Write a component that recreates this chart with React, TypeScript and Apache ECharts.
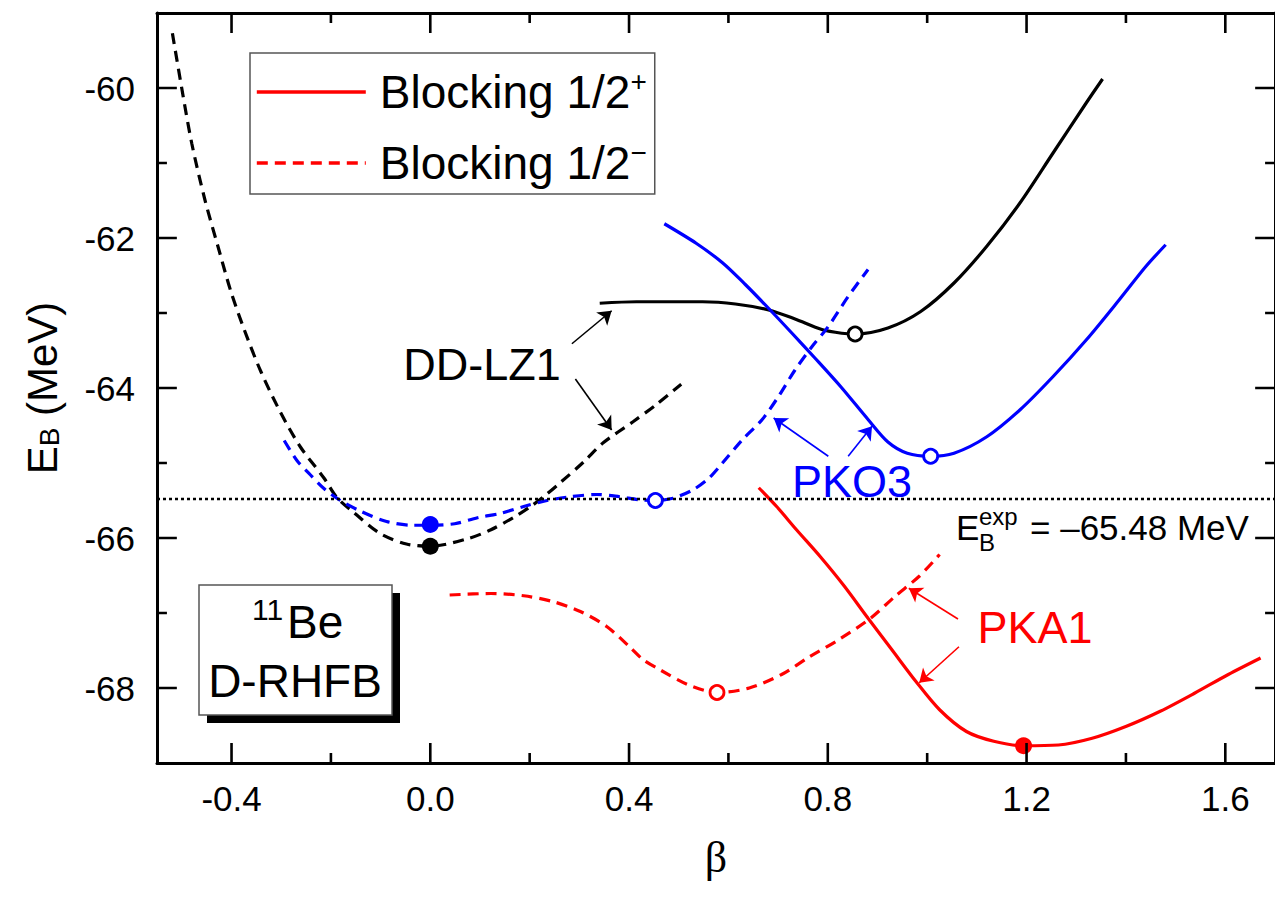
import React, { useEffect, useRef } from "react";
import * as echarts from "echarts";

const FONT = '"Liberation Sans", Arial, Helvetica, sans-serif';
const SERIF = '"Liberation Serif", "DejaVu Serif", serif';
const BLACK = "#000000";
const BLUE = "#0000ff";
const RED = "#ff0000";

// Axis ranges and ticks
const xMin = -0.55;
const xMax = 1.7;
const yMin = -69;
const yMax = -59;
const xMajorTicks = [-0.4, 0.0, 0.4, 0.8, 1.2, 1.6];
const xMinorTicks = [-0.2, 0.2, 0.6, 1.0, 1.4];
const yMajorTicks = [-68, -66, -64, -62, -60];
const yMinorTicks = [-67, -65, -63, -61];

// Experimental binding energy
const expEnergy = -65.48;

// DD-LZ1
const ddlz1Minus = [
  [-0.519, -59.27], [-0.5, -60.01], [-0.48, -60.74], [-0.454, -61.48], [-0.427, -62.12],
  [-0.401, -62.72], [-0.374, -63.23], [-0.341, -63.78], [-0.301, -64.33], [-0.261, -64.79],
  [-0.214, -65.2], [-0.188, -65.46], [-0.154, -65.66], [-0.101, -65.94], [-0.048, -66.08],
  [0.0, -66.11], [0.075, -66.01], [0.122, -65.89], [0.169, -65.72], [0.202, -65.58],
  [0.228, -65.45], [0.262, -65.26], [0.308, -64.99], [0.348, -64.73], [0.408, -64.45],
  [0.455, -64.22], [0.505, -63.95],
];
const ddlz1Plus = [
  [0.341, -62.87], [0.415, -62.85], [0.48, -62.85], [0.548, -62.85], [0.614, -62.88],
  [0.681, -62.96], [0.734, -63.08], [0.788, -63.22], [0.828, -63.27], [0.855, -63.28],
  [0.921, -63.2], [0.987, -62.98], [1.054, -62.6], [1.12, -62.11], [1.187, -61.53],
  [1.253, -60.87], [1.32, -60.2], [1.353, -59.88],
];

// PKO3
const pko3Minus = [
  [-0.294, -64.7], [-0.268, -64.97], [-0.241, -65.16], [-0.214, -65.34], [-0.181, -65.5],
  [-0.141, -65.64], [-0.088, -65.78], [-0.035, -65.83], [0.0, -65.83], [0.049, -65.81],
  [0.095, -65.73], [0.142, -65.67], [0.188, -65.58], [0.235, -65.5], [0.282, -65.45],
  [0.335, -65.42], [0.381, -65.45], [0.421, -65.49], [0.453, -65.5], [0.488, -65.47],
  [0.528, -65.36], [0.561, -65.2], [0.588, -65.0], [0.628, -64.69], [0.668, -64.42],
  [0.701, -64.11], [0.734, -63.76], [0.768, -63.45], [0.801, -63.18], [0.841, -62.78],
  [0.881, -62.42],
];
const pko3Plus = [
  [0.471, -61.81], [0.535, -62.07], [0.588, -62.33], [0.634, -62.62], [0.684, -62.96],
  [0.728, -63.27], [0.774, -63.6], [0.827, -63.99], [0.881, -64.42], [0.921, -64.72],
  [0.96, -64.87], [1.007, -64.91], [1.054, -64.87], [1.12, -64.65], [1.187, -64.29],
  [1.253, -63.85], [1.32, -63.36], [1.387, -62.82], [1.44, -62.38], [1.48, -62.09],
];

// PKA1
const pka1Minus = [
  [0.039, -66.76], [0.122, -66.74], [0.188, -66.77], [0.248, -66.85], [0.302, -66.98],
  [0.355, -67.18], [0.401, -67.45], [0.428, -67.62], [0.463, -67.76], [0.52, -67.96],
  [0.577, -68.06], [0.642, -68.0], [0.707, -67.82], [0.764, -67.58], [0.821, -67.36],
  [0.886, -67.07], [0.935, -66.78], [0.984, -66.51], [1.025, -66.22],
];
const pka1Plus = [
  [0.661, -65.33], [0.697, -65.58], [0.737, -65.89], [0.785, -66.25], [0.833, -66.64],
  [0.881, -67.07], [0.929, -67.49], [0.977, -67.91], [1.025, -68.29], [1.079, -68.58],
  [1.134, -68.71], [1.194, -68.77], [1.264, -68.76], [1.332, -68.67], [1.401, -68.51],
  [1.469, -68.31], [1.538, -68.07], [1.606, -67.82], [1.671, -67.6],
];

// Minima markers (filled = lowest state, open = other minima)
const filledMinima = [
  { model: "DD-LZ1", point: [0.0, -66.11] },
  { model: "PKO3", point: [0.0, -65.82] },
  { model: "PKA1", point: [1.194, -68.77] },
];
const openMinima = [
  { model: "DD-LZ1", point: [0.855, -63.28] },
  { model: "PKO3", point: [0.453, -65.5] },
  { model: "PKO3", point: [1.007, -64.91] },
  { model: "PKA1", point: [0.577, -68.06] },
];
const modelColor: Record<string, string> = { "DD-LZ1": BLACK, PKO3: BLUE, PKA1: RED };

// Label arrows: [from, to] in data coordinates
const ddlz1Arrows = [
  [[0.285, -63.41], [0.365, -62.97]],
  [[0.292, -63.88], [0.365, -64.56]],
];
const pko3Arrows = [
  [[0.801, -64.91], [0.691, -64.4]],
  [[0.841, -64.91], [0.889, -64.51]],
];
const pka1Arrows = [
  [[1.062, -67.08], [0.963, -66.67]],
  [[1.064, -67.45], [0.984, -67.93]],
];

const legendNames = ["Blocking 1/2+", "Blocking 1/2-"];

// Plot area (pixels)
const GRID = { left: 157, top: 13, width: 1127, height: 750 };
const MAJOR_LEN = 20;
const MINOR_LEN = 10;

// Tick marks on all four frame sides as broken polyline data (data coordinates)
function frameTickData() {
  const dx = (xMax - xMin) / GRID.width;
  const dy = (yMax - yMin) / GRID.height;
  const pts: any[] = [];
  const gap = ["-", "-"];
  const seg = (a: number[], b: number[]) => {
    pts.push(a, b, gap);
  };
  const xt = (v: number, len: number) => {
    seg([v, yMin], [v, yMin + len * dy]);
    seg([v, yMax], [v, yMax - len * dy]);
  };
  const yt = (v: number, len: number) => {
    seg([xMin, v], [xMin + len * dx, v]);
    seg([xMax, v], [xMax - len * dx, v]);
  };
  xMajorTicks.forEach((v) => xt(v, MAJOR_LEN));
  xMinorTicks.forEach((v) => xt(v, MINOR_LEN));
  yMajorTicks.forEach((v) => yt(v, MAJOR_LEN));
  yMinorTicks.forEach((v) => yt(v, MINOR_LEN));
  return pts;
}

function arrowMarkLine(arrows: number[][][], color: string) {
  return {
    silent: true,
    symbol: ["none", "arrow"],
    symbolSize: 13,
    label: { show: false },
    emphasis: { disabled: true },
    lineStyle: { type: "solid", width: 1.6, color },
    data: arrows.map(([a, b]) => [{ coord: a }, { coord: b }]),
  };
}

function curve(name: string, data: number[][], color: string, dashed: boolean, extra: any = {}) {
  return {
    name,
    type: "line",
    data,
    smooth: 0.3,
    symbol: "none",
    color,
    lineStyle: { color, width: 3.2, type: dashed ? [11, 7] : "solid" },
    z: 3,
    ...extra,
  };
}

function txt(text: string, x: number, y: number, size: number, color: string, align = "left") {
  return {
    type: "text", x, y, z: 10, silent: true,
    style: { text, fill: color, fontSize: size, fontFamily: FONT, align, verticalAlign: "middle" },
  };
}

export default function App() {
  const ref = useRef<HTMLDivElement>(null);

  useEffect(() => {
    if (!ref.current) return;
    const chart = echarts.init(ref.current, null, { renderer: "svg" });

    const axisLine = { show: true, onZero: false, lineStyle: { color: BLACK, width: 3 } };

    const option: any = {
      animation: false,
      backgroundColor: "#ffffff",
      grid: { ...GRID, containLabel: false },
      legend: {
        data: legendNames,
        orient: "vertical",
        left: 250,
        top: 53,
        padding: [14, 8, 8, 5],
        itemGap: 23,
        itemWidth: 109,
        itemHeight: 20,
        borderColor: "#555",
        borderWidth: 1.5,
        backgroundColor: "#ffffff",
        selectedMode: false,
        itemStyle: { opacity: 0 },
        lineStyle: { width: 3.6 },
        formatter: (name: string) =>
          name.endsWith("+") ? "{m|Blocking 1/2}{p|+}" : "{m|Blocking 1/2}{p|\u2212}",
        textStyle: {
          padding: [0, 0, 0, 9],
          rich: {
            m: { fontSize: 46, lineHeight: 50, color: BLACK, fontFamily: FONT },
            p: { fontSize: 28, lineHeight: 28, color: BLACK, fontFamily: FONT, verticalAlign: "top" },
          },
        },
      },
      xAxis: [
        {
          type: "value",
          min: xMin,
          max: xMax,
          position: "bottom",
          splitLine: { show: false },
          axisLine,
          axisTick: { show: false },
          axisLabel: {
            customValues: xMajorTicks,
            formatter: (v: number) => v.toFixed(1),
            fontSize: 35, color: BLACK, fontFamily: FONT, margin: 18,
          },
          name: "\u03b2",
          nameLocation: "middle",
          nameGap: 72,
          nameTextStyle: { fontSize: 44, fontFamily: SERIF, color: BLACK },
        },
        {
          type: "value",
          min: xMin,
          max: xMax,
          position: "top",
          splitLine: { show: false },
          axisLine,
          axisTick: { show: false },
          axisLabel: { show: false },
        },
      ],
      yAxis: [
        {
          type: "value",
          min: yMin,
          max: yMax,
          position: "left",
          splitLine: { show: false },
          axisLine,
          axisTick: { show: false },
          axisLabel: {
            customValues: yMajorTicks,
            formatter: (v: number) => String(v),
            fontSize: 35, color: BLACK, fontFamily: FONT, margin: 22,
          },
          name: "{e|E}{s|B}{e| (MeV)}",
          nameLocation: "middle",
          nameRotate: 90,
          nameGap: 94,
          nameTextStyle: {
            rich: {
              e: { fontSize: 42, lineHeight: 42, fontFamily: FONT, color: BLACK, verticalAlign: "top" },
              s: { fontSize: 28, lineHeight: 28, fontFamily: FONT, color: BLACK, verticalAlign: "bottom", padding: [22, 0, 0, 0] },
            },
          },
        },
        {
          type: "value",
          min: yMin,
          max: yMax,
          position: "right",
          splitLine: { show: false },
          axisLine,
          axisTick: { show: false },
          axisLabel: { show: false },
        },
      ],
      series: [
        curve("DD-LZ1 1/2-", ddlz1Minus, BLACK, true, {
          markLine: {
            silent: true,
            symbol: "none",
            label: { show: false },
            emphasis: { disabled: true },
            lineStyle: { type: [3, 3], width: 2.4, color: BLACK },
            data: [{ yAxis: expEnergy }],
          },
        }),
        curve("DD-LZ1 1/2+", ddlz1Plus, BLACK, false, { markLine: arrowMarkLine(ddlz1Arrows, BLACK) }),
        curve("PKO3 1/2-", pko3Minus, BLUE, true),
        curve("PKO3 1/2+", pko3Plus, BLUE, false, { markLine: arrowMarkLine(pko3Arrows, BLUE) }),
        curve(legendNames[1], pka1Minus, RED, true),
        curve(legendNames[0], pka1Plus, RED, false, { markLine: arrowMarkLine(pka1Arrows, RED) }),
        {
          name: "frame ticks",
          type: "line",
          data: frameTickData(),
          symbol: "none",
          smooth: false,
          connectNulls: false,
          clip: false,
          silent: true,
          z: 6,
          color: BLACK,
          lineStyle: { color: BLACK, width: 2.6, type: "solid", cap: "butt" },
        },
        {
          name: "filled minima",
          type: "scatter",
          symbol: "circle",
          symbolSize: 17,
          z: 5,
          data: filledMinima.map((m) => ({
            value: m.point,
            itemStyle: { color: modelColor[m.model], opacity: 1 },
          })),
        },
        {
          name: "open minima",
          type: "scatter",
          symbol: "circle",
          symbolSize: 14,
          z: 5,
          data: openMinima.map((m) => ({
            value: m.point,
            itemStyle: { color: "#ffffff", borderColor: modelColor[m.model], borderWidth: 2.8, opacity: 1 },
          })),
        },
      ],
      graphic: {
        elements: [
          txt("DD-LZ1", 482, 364, 45, BLACK, "center"),
          txt("PKO3", 852, 481, 45, BLUE, "center"),
          txt("PKA1", 1035, 627, 45, RED, "center"),
          txt("E", 956, 527, 35, BLACK),
          txt("exp", 979, 516, 24, BLACK),
          txt("B", 979, 542, 24, BLACK),
          txt("= \u201365.48 MeV", 1030, 527, 35, BLACK),
          { type: "rect", z: 8, silent: true, shape: { x: 207, y: 593, width: 193, height: 130 }, style: { fill: BLACK } },
          { type: "rect", z: 9, silent: true, shape: { x: 199, y: 585, width: 193, height: 130 }, style: { fill: "#ffffff", stroke: "#555", lineWidth: 1.5 } },
          txt("11", 252, 609, 30, BLACK),
          txt("Be", 287, 622, 46, BLACK),
          txt("D-RHFB", 295, 681, 46, BLACK, "center"),
        ],
      },
    };

    chart.setOption(option);
    return () => chart.dispose();
  }, []);

  return (
    <div
      ref={ref}
      style={{ position: "fixed", left: 0, top: 0, width: 1275, height: 900, background: "#fff" }}
    />
  );
}
